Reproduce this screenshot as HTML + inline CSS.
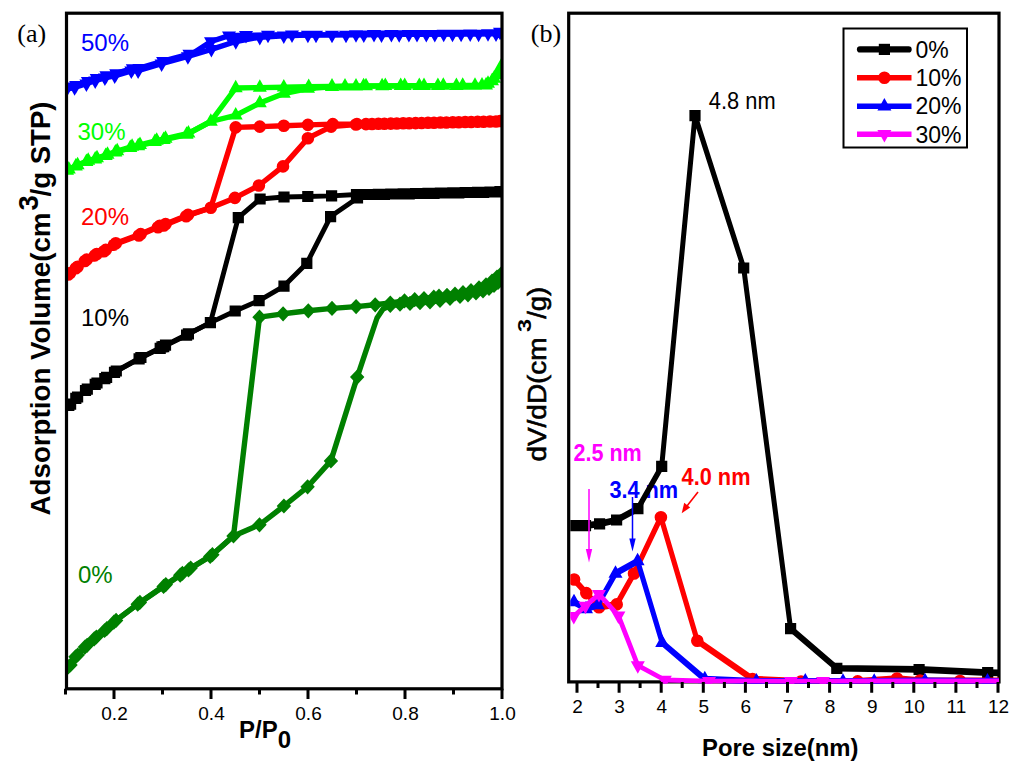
<!DOCTYPE html>
<html><head><meta charset="utf-8"><title>Figure</title>
<style>html,body{margin:0;padding:0;background:#fff;width:1024px;height:772px;overflow:hidden}
svg{display:block;font-family:"Liberation Sans", sans-serif}</style></head>
<body>
<svg width="1024" height="772" viewBox="0 0 1024 772">
<rect width="1024" height="772" fill="#fff"/>
<defs><clipPath id="cl"><rect x="66.5" y="13.2" width="435.5" height="675.6"/></clipPath>
<clipPath id="cr2"><rect x="570.3" y="14.8" width="429.7" height="669"/></clipPath></defs>
<g clip-path="url(#cl)">
<polyline points="66.5,89 74.6,87.5 86.4,83.6 95.2,80.7 104.9,77.8 114.7,75.8 131.3,70.8 138.1,70.6 161.6,63.6 187.9,56.4 211.4,49.3 235.8,41.5 259.8,37.2 283.8,35.7 307.9,35 332,34.9 356,34.4 374,34.3 391.4,34.2 408.9,34.2 426.3,34.1 443.7,34 461.1,33.9 478.6,33.9 496,33.8" fill="none" stroke="#0000ff" stroke-width="5.4" stroke-linejoin="round" stroke-linecap="butt"/>
<polyline points="500,32 488,33.5 470.2,33.7 452.5,33.9 434.8,34 417,34.2 399.2,34.4 381.5,34.5 363.8,34.7 346,34.9 316,34.9 292,34.8 268,35 246,35.3 229,35.6 211,41.5 187.9,56.4 189.4,54 163.1,61.2 139.6,68.2 132.8,68.4 116.2,73.4 106.4,75.4 96.7,78.3 87.9,81.2 76.1,85.1 68,86.6" fill="none" stroke="#0000ff" stroke-width="5.4" stroke-linejoin="round" stroke-linecap="butt"/>
<path d="M66.5 97.3L73.5 84.8L59.5 84.8zM74.6 95.8L81.6 83.3L67.6 83.3zM86.4 91.9L93.4 79.4L79.4 79.4zM95.2 89L102.2 76.5L88.2 76.5zM104.9 86.1L111.9 73.6L97.9 73.6zM114.7 84.1L121.7 71.6L107.7 71.6zM131.3 79.1L138.3 66.6L124.3 66.6zM138.1 78.9L145.1 66.4L131.1 66.4zM161.6 71.9L168.6 59.4L154.6 59.4zM187.9 64.7L194.9 52.2L180.9 52.2zM211.4 57.6L218.4 45.1L204.4 45.1zM235.8 49.8L242.8 37.3L228.8 37.3zM259.8 45.5L266.8 33L252.8 33zM283.8 44L290.8 31.5L276.8 31.5zM307.9 43.3L314.9 30.8L300.9 30.8zM332 43.2L339 30.7L325 30.7zM356 42.7L363 30.2L349 30.2zM374 42.6L381 30.1L367 30.1zM391.4 42.6L398.4 30.1L384.4 30.1zM408.9 42.5L415.9 30L401.9 30zM426.3 42.4L433.3 29.9L419.3 29.9zM443.7 42.3L450.7 29.8L436.7 29.8zM461.1 42.3L468.1 29.8L454.1 29.8zM478.6 42.2L485.6 29.7L471.6 29.7zM496 42.1L503 29.6L489 29.6zM500 40.3L507 27.8L493 27.8zM488 41.8L495 29.3L481 29.3zM470.2 42L477.2 29.5L463.2 29.5zM452.5 42.2L459.5 29.7L445.5 29.7zM434.8 42.4L441.8 29.9L427.8 29.9zM417 42.5L424 30L410 30zM399.2 42.7L406.2 30.2L392.2 30.2zM381.5 42.9L388.5 30.4L374.5 30.4zM363.8 43.1L370.8 30.6L356.8 30.6zM346 43.2L353 30.7L339 30.7zM316 43.2L323 30.7L309 30.7zM292 43.1L299 30.6L285 30.6zM268 43.3L275 30.8L261 30.8zM246 43.6L253 31.1L239 31.1zM229 43.9L236 31.4L222 31.4zM211 49.8L218 37.3L204 37.3zM187.9 64.7L194.9 52.2L180.9 52.2zM189.4 62.3L196.4 49.8L182.4 49.8zM163.1 69.5L170.1 57L156.1 57zM139.6 76.5L146.6 64L132.6 64zM132.8 76.7L139.8 64.2L125.8 64.2zM116.2 81.7L123.2 69.2L109.2 69.2zM106.4 83.7L113.4 71.2L99.4 71.2zM96.7 86.6L103.7 74.1L89.7 74.1zM87.9 89.5L94.9 77L80.9 77zM76.1 93.4L83.1 80.9L69.1 80.9zM68 94.9L75 82.4L61 82.4z" fill="#0000ff"/>
<polyline points="67,170.5 75.8,166.2 86.4,161.8 95.2,159.3 105.7,155.8 115.4,152.2 130.3,147.8 138.2,146 154.9,141.8 163.7,139.8 186.6,134.5 210.8,121.5 235.7,115.4 259.8,103 283.8,93.5 308,88.5 332,86.8 356,86.3 366,86 385.3,85.9 404.7,85.8 424,85.7 443.3,85.6 462.7,85.5 482,85.4 488,83.5 494,78.5 498,72.5 501,66.5" fill="none" stroke="#00ff00" stroke-width="5.4" stroke-linejoin="round" stroke-linecap="butt"/>
<polyline points="501,66.5 497,75 492,81 486,85.2 475,85.6 456.4,85.7 437.9,85.8 419.3,85.9 400.7,85.9 382.1,86 363.6,86.1 345,86.2 332,86.4 308.7,86.8 283.8,87.2 259.8,87.6 235.7,88 210.8,121.5 188.4,133.3 165.5,138.6 156.7,140.6 140,144.8 132.1,146.6 117.2,151 107.5,154.6 97,158.1 88.2,160.6 77.6,165 68.8,169.3" fill="none" stroke="#00ff00" stroke-width="5.4" stroke-linejoin="round" stroke-linecap="butt"/>
<path d="M67 162.2L74 174.7L60 174.7zM75.8 157.9L82.8 170.4L68.8 170.4zM86.4 153.5L93.4 166L79.4 166zM95.2 151L102.2 163.5L88.2 163.5zM105.7 147.5L112.7 160L98.7 160zM115.4 143.9L122.4 156.4L108.4 156.4zM130.3 139.5L137.3 152L123.3 152zM138.2 137.7L145.2 150.2L131.2 150.2zM154.9 133.5L161.9 146L147.9 146zM163.7 131.5L170.7 144L156.7 144zM186.6 126.2L193.6 138.7L179.6 138.7zM210.8 113.2L217.8 125.7L203.8 125.7zM235.7 107.1L242.7 119.6L228.7 119.6zM259.8 94.7L266.8 107.2L252.8 107.2zM283.8 85.2L290.8 97.7L276.8 97.7zM308 80.2L315 92.7L301 92.7zM332 78.5L339 91L325 91zM356 78L363 90.5L349 90.5zM366 77.7L373 90.2L359 90.2zM385.3 77.6L392.3 90.1L378.3 90.1zM404.7 77.5L411.7 90L397.7 90zM424 77.4L431 89.9L417 89.9zM443.3 77.3L450.3 89.8L436.3 89.8zM462.7 77.2L469.7 89.7L455.7 89.7zM482 77.1L489 89.6L475 89.6zM488 75.2L495 87.7L481 87.7zM494 70.2L501 82.7L487 82.7zM498 64.2L505 76.7L491 76.7zM501 58.2L508 70.7L494 70.7zM501 58.2L508 70.7L494 70.7zM497 66.7L504 79.2L490 79.2zM492 72.7L499 85.2L485 85.2zM486 76.9L493 89.4L479 89.4zM475 77.3L482 89.8L468 89.8zM456.4 77.4L463.4 89.9L449.4 89.9zM437.9 77.4L444.9 89.9L430.9 89.9zM419.3 77.5L426.3 90L412.3 90zM400.7 77.6L407.7 90.1L393.7 90.1zM382.1 77.7L389.1 90.2L375.1 90.2zM363.6 77.8L370.6 90.3L356.6 90.3zM345 77.9L352 90.4L338 90.4zM332 78.1L339 90.6L325 90.6zM308.7 78.5L315.7 91L301.7 91zM283.8 78.9L290.8 91.4L276.8 91.4zM259.8 79.3L266.8 91.8L252.8 91.8zM235.7 79.7L242.7 92.2L228.7 92.2zM210.8 113.2L217.8 125.7L203.8 125.7zM188.4 125L195.4 137.5L181.4 137.5zM165.5 130.3L172.5 142.8L158.5 142.8zM156.7 132.3L163.7 144.8L149.7 144.8zM140 136.5L147 149L133 149zM132.1 138.3L139.1 150.8L125.1 150.8zM117.2 142.7L124.2 155.2L110.2 155.2zM107.5 146.3L114.5 158.8L100.5 158.8zM97 149.8L104 162.3L90 162.3zM88.2 152.3L95.2 164.8L81.2 164.8zM77.6 156.7L84.6 169.2L70.6 169.2zM68.8 161L75.8 173.5L61.8 173.5z" fill="#00ff00"/>
<polyline points="68.3,274.5 75.8,268.2 84.9,261 94.9,255.4 104,251.3 114,244.6 138.9,235.5 158,227.2 163.8,225.5 186.2,216.3 210.8,207.8 234.9,197.9 258.9,185.5 283,166.4 307.9,138.2 331.1,126.6 356,124.5 372,124 384.4,123.8 396.8,123.5 409.2,123.2 421.6,123 434,122.8 446.4,122.5 458.8,122.2 471.2,122 483.6,121.8 496,121.5" fill="none" stroke="#ff0000" stroke-width="5.4" stroke-linejoin="round" stroke-linecap="butt"/>
<polyline points="500,121 490,121.5 477.6,121.8 465.2,122 452.8,122.3 440.4,122.5 428,122.8 415.6,123.1 403.2,123.3 390.8,123.6 378.4,123.8 366,124.1 356.9,124.1 332.8,124.1 307.9,124.9 283.8,125.7 259.8,126.6 235.7,127.4 210.8,207.8 188,214.9 165.6,224.1 159.8,225.8 140.7,234.1 115.8,243.2 105.8,249.9 96.7,254 86.7,259.6 77.6,266.8 70.1,273.1" fill="none" stroke="#ff0000" stroke-width="5.4" stroke-linejoin="round" stroke-linecap="butt"/>
<path d="M62 274.5a6.3 6.3 0 1 0 12.6 0a6.3 6.3 0 1 0 -12.6 0zM69.5 268.2a6.3 6.3 0 1 0 12.6 0a6.3 6.3 0 1 0 -12.6 0zM78.6 261a6.3 6.3 0 1 0 12.6 0a6.3 6.3 0 1 0 -12.6 0zM88.6 255.4a6.3 6.3 0 1 0 12.6 0a6.3 6.3 0 1 0 -12.6 0zM97.7 251.3a6.3 6.3 0 1 0 12.6 0a6.3 6.3 0 1 0 -12.6 0zM107.7 244.6a6.3 6.3 0 1 0 12.6 0a6.3 6.3 0 1 0 -12.6 0zM132.6 235.5a6.3 6.3 0 1 0 12.6 0a6.3 6.3 0 1 0 -12.6 0zM151.7 227.2a6.3 6.3 0 1 0 12.6 0a6.3 6.3 0 1 0 -12.6 0zM157.5 225.5a6.3 6.3 0 1 0 12.6 0a6.3 6.3 0 1 0 -12.6 0zM179.9 216.3a6.3 6.3 0 1 0 12.6 0a6.3 6.3 0 1 0 -12.6 0zM204.5 207.8a6.3 6.3 0 1 0 12.6 0a6.3 6.3 0 1 0 -12.6 0zM228.6 197.9a6.3 6.3 0 1 0 12.6 0a6.3 6.3 0 1 0 -12.6 0zM252.6 185.5a6.3 6.3 0 1 0 12.6 0a6.3 6.3 0 1 0 -12.6 0zM276.7 166.4a6.3 6.3 0 1 0 12.6 0a6.3 6.3 0 1 0 -12.6 0zM301.6 138.2a6.3 6.3 0 1 0 12.6 0a6.3 6.3 0 1 0 -12.6 0zM324.8 126.6a6.3 6.3 0 1 0 12.6 0a6.3 6.3 0 1 0 -12.6 0zM349.7 124.5a6.3 6.3 0 1 0 12.6 0a6.3 6.3 0 1 0 -12.6 0zM365.7 124a6.3 6.3 0 1 0 12.6 0a6.3 6.3 0 1 0 -12.6 0zM378.1 123.8a6.3 6.3 0 1 0 12.6 0a6.3 6.3 0 1 0 -12.6 0zM390.5 123.5a6.3 6.3 0 1 0 12.6 0a6.3 6.3 0 1 0 -12.6 0zM402.9 123.2a6.3 6.3 0 1 0 12.6 0a6.3 6.3 0 1 0 -12.6 0zM415.3 123a6.3 6.3 0 1 0 12.6 0a6.3 6.3 0 1 0 -12.6 0zM427.7 122.8a6.3 6.3 0 1 0 12.6 0a6.3 6.3 0 1 0 -12.6 0zM440.1 122.5a6.3 6.3 0 1 0 12.6 0a6.3 6.3 0 1 0 -12.6 0zM452.5 122.2a6.3 6.3 0 1 0 12.6 0a6.3 6.3 0 1 0 -12.6 0zM464.9 122a6.3 6.3 0 1 0 12.6 0a6.3 6.3 0 1 0 -12.6 0zM477.3 121.8a6.3 6.3 0 1 0 12.6 0a6.3 6.3 0 1 0 -12.6 0zM489.7 121.5a6.3 6.3 0 1 0 12.6 0a6.3 6.3 0 1 0 -12.6 0zM493.7 121a6.3 6.3 0 1 0 12.6 0a6.3 6.3 0 1 0 -12.6 0zM483.7 121.5a6.3 6.3 0 1 0 12.6 0a6.3 6.3 0 1 0 -12.6 0zM471.3 121.8a6.3 6.3 0 1 0 12.6 0a6.3 6.3 0 1 0 -12.6 0zM458.9 122a6.3 6.3 0 1 0 12.6 0a6.3 6.3 0 1 0 -12.6 0zM446.5 122.3a6.3 6.3 0 1 0 12.6 0a6.3 6.3 0 1 0 -12.6 0zM434.1 122.5a6.3 6.3 0 1 0 12.6 0a6.3 6.3 0 1 0 -12.6 0zM421.7 122.8a6.3 6.3 0 1 0 12.6 0a6.3 6.3 0 1 0 -12.6 0zM409.3 123.1a6.3 6.3 0 1 0 12.6 0a6.3 6.3 0 1 0 -12.6 0zM396.9 123.3a6.3 6.3 0 1 0 12.6 0a6.3 6.3 0 1 0 -12.6 0zM384.5 123.6a6.3 6.3 0 1 0 12.6 0a6.3 6.3 0 1 0 -12.6 0zM372.1 123.8a6.3 6.3 0 1 0 12.6 0a6.3 6.3 0 1 0 -12.6 0zM359.7 124.1a6.3 6.3 0 1 0 12.6 0a6.3 6.3 0 1 0 -12.6 0zM350.6 124.1a6.3 6.3 0 1 0 12.6 0a6.3 6.3 0 1 0 -12.6 0zM326.5 124.1a6.3 6.3 0 1 0 12.6 0a6.3 6.3 0 1 0 -12.6 0zM301.6 124.9a6.3 6.3 0 1 0 12.6 0a6.3 6.3 0 1 0 -12.6 0zM277.5 125.7a6.3 6.3 0 1 0 12.6 0a6.3 6.3 0 1 0 -12.6 0zM253.5 126.6a6.3 6.3 0 1 0 12.6 0a6.3 6.3 0 1 0 -12.6 0zM229.4 127.4a6.3 6.3 0 1 0 12.6 0a6.3 6.3 0 1 0 -12.6 0zM204.5 207.8a6.3 6.3 0 1 0 12.6 0a6.3 6.3 0 1 0 -12.6 0zM181.7 214.9a6.3 6.3 0 1 0 12.6 0a6.3 6.3 0 1 0 -12.6 0zM159.3 224.1a6.3 6.3 0 1 0 12.6 0a6.3 6.3 0 1 0 -12.6 0zM153.5 225.8a6.3 6.3 0 1 0 12.6 0a6.3 6.3 0 1 0 -12.6 0zM134.4 234.1a6.3 6.3 0 1 0 12.6 0a6.3 6.3 0 1 0 -12.6 0zM109.5 243.2a6.3 6.3 0 1 0 12.6 0a6.3 6.3 0 1 0 -12.6 0zM99.5 249.9a6.3 6.3 0 1 0 12.6 0a6.3 6.3 0 1 0 -12.6 0zM90.4 254a6.3 6.3 0 1 0 12.6 0a6.3 6.3 0 1 0 -12.6 0zM80.4 259.6a6.3 6.3 0 1 0 12.6 0a6.3 6.3 0 1 0 -12.6 0zM71.3 266.8a6.3 6.3 0 1 0 12.6 0a6.3 6.3 0 1 0 -12.6 0zM63.8 273.1a6.3 6.3 0 1 0 12.6 0a6.3 6.3 0 1 0 -12.6 0z" fill="#ff0000"/>
<polyline points="68.8,405.5 75.8,398.4 85.5,390.5 95.2,384.4 104.8,378.7 114.5,372.4 139.1,358.9 160.2,348.3 163.7,346.6 186.6,335.2 210.4,322.6 235.2,311 259.1,300.6 284,286.1 306.8,263.3 330.6,216.6 357.5,198 372,194.5 384.4,194.2 396.8,194 409.2,193.8 421.6,193.5 434,193.2 446.4,193 458.8,192.8 471.2,192.5 483.6,192.2 496,192" fill="none" stroke="#000000" stroke-width="4.9" stroke-linejoin="round" stroke-linecap="butt"/>
<polyline points="500,191.5 490,192 477.6,192.2 465.2,192.5 452.8,192.8 440.4,193 428,193.2 415.6,193.5 403.2,193.8 390.8,194 378.4,194.2 366,194.5 356.5,194.5 331.6,195.9 307.8,196.5 284,197 260.1,199 238.3,217.7 210.4,322.6 188.4,333.8 165.5,345.2 162,346.9 140.9,357.5 116.3,371 106.6,377.3 97,383 87.3,389.1 77.6,397 70.6,404.1" fill="none" stroke="#000000" stroke-width="4.9" stroke-linejoin="round" stroke-linecap="butt"/>
<path d="M63.2 399.9h11.2v11.2h-11.2zM70.2 392.8h11.2v11.2h-11.2zM79.9 384.9h11.2v11.2h-11.2zM89.6 378.8h11.2v11.2h-11.2zM99.2 373.1h11.2v11.2h-11.2zM108.9 366.8h11.2v11.2h-11.2zM133.5 353.3h11.2v11.2h-11.2zM154.6 342.7h11.2v11.2h-11.2zM158.1 341h11.2v11.2h-11.2zM181 329.6h11.2v11.2h-11.2zM204.8 317h11.2v11.2h-11.2zM229.6 305.4h11.2v11.2h-11.2zM253.5 295h11.2v11.2h-11.2zM278.4 280.5h11.2v11.2h-11.2zM301.2 257.7h11.2v11.2h-11.2zM325 211h11.2v11.2h-11.2zM351.9 192.4h11.2v11.2h-11.2zM366.4 188.9h11.2v11.2h-11.2zM378.8 188.7h11.2v11.2h-11.2zM391.2 188.4h11.2v11.2h-11.2zM403.6 188.2h11.2v11.2h-11.2zM416 187.9h11.2v11.2h-11.2zM428.4 187.7h11.2v11.2h-11.2zM440.8 187.4h11.2v11.2h-11.2zM453.2 187.2h11.2v11.2h-11.2zM465.6 186.9h11.2v11.2h-11.2zM478 186.7h11.2v11.2h-11.2zM490.4 186.4h11.2v11.2h-11.2zM494.4 185.9h11.2v11.2h-11.2zM484.4 186.4h11.2v11.2h-11.2zM472 186.7h11.2v11.2h-11.2zM459.6 186.9h11.2v11.2h-11.2zM447.2 187.2h11.2v11.2h-11.2zM434.8 187.4h11.2v11.2h-11.2zM422.4 187.7h11.2v11.2h-11.2zM410 187.9h11.2v11.2h-11.2zM397.6 188.2h11.2v11.2h-11.2zM385.2 188.4h11.2v11.2h-11.2zM372.8 188.7h11.2v11.2h-11.2zM360.4 188.9h11.2v11.2h-11.2zM350.9 188.9h11.2v11.2h-11.2zM326 190.3h11.2v11.2h-11.2zM302.2 190.9h11.2v11.2h-11.2zM278.4 191.4h11.2v11.2h-11.2zM254.5 193.4h11.2v11.2h-11.2zM232.7 212.1h11.2v11.2h-11.2zM204.8 317h11.2v11.2h-11.2zM182.8 328.2h11.2v11.2h-11.2zM159.9 339.6h11.2v11.2h-11.2zM156.4 341.3h11.2v11.2h-11.2zM135.3 351.9h11.2v11.2h-11.2zM110.7 365.4h11.2v11.2h-11.2zM101 371.7h11.2v11.2h-11.2zM91.4 377.4h11.2v11.2h-11.2zM81.7 383.5h11.2v11.2h-11.2zM72 391.4h11.2v11.2h-11.2zM65 398.5h11.2v11.2h-11.2z" fill="#000000"/>
<polyline points="68.3,666.8 75.5,656.8 84.9,647.1 94.2,638.8 104.6,630.5 113.9,622.2 137.7,604.2 163.6,586.4 180.2,575.2 188.5,569.8 210.2,556.5 233.5,536 259.5,524.8 283.9,506 307.6,486.8 330.9,460.9 357.2,377.1 377,318 383,309 390.3,305.5 400,304.2 410,303.4 420,302.7 430,302 440,300.5 450,298.5 460,296.5 468,294.8 476,293 483,291 489,288.5 494,285.5 498,282.5 501,279.5" fill="none" stroke="#008000" stroke-width="5.4" stroke-linejoin="round" stroke-linecap="butt"/>
<polyline points="501,274 497,277 492,281 486,284.8 479,287.8 471,290.6 463,292.5 455,294 447,295.3 439,296.2 433.8,297.2 424,298.5 414.7,299.6 404.5,300.8 390.3,303 375.2,304.8 356.1,306.6 332,308.4 308.3,310.8 283.1,313.8 259.5,317.2 233.5,536 212.4,554.7 190.7,568 182.4,573.4 165.8,584.6 139.9,602.4 116.1,620.4 106.8,628.7 96.4,637 87.1,645.3 77.7,655 70.5,665" fill="none" stroke="#008000" stroke-width="5.4" stroke-linejoin="round" stroke-linecap="butt"/>
<path d="M68.3 659.2L75.5 666.8L68.3 674.4L61.1 666.8zM75.5 649.2L82.7 656.8L75.5 664.4L68.3 656.8zM84.9 639.5L92.1 647.1L84.9 654.7L77.7 647.1zM94.2 631.2L101.4 638.8L94.2 646.4L87 638.8zM104.6 622.9L111.8 630.5L104.6 638.1L97.4 630.5zM113.9 614.6L121.1 622.2L113.9 629.8L106.7 622.2zM137.7 596.6L144.9 604.2L137.7 611.8L130.5 604.2zM163.6 578.8L170.8 586.4L163.6 594L156.4 586.4zM180.2 567.6L187.4 575.2L180.2 582.8L173 575.2zM188.5 562.2L195.7 569.8L188.5 577.4L181.3 569.8zM210.2 548.9L217.4 556.5L210.2 564.1L203 556.5zM233.5 528.4L240.7 536L233.5 543.6L226.3 536zM259.5 517.2L266.7 524.8L259.5 532.4L252.3 524.8zM283.9 498.4L291.1 506L283.9 513.6L276.7 506zM307.6 479.2L314.8 486.8L307.6 494.4L300.4 486.8zM330.9 453.3L338.1 460.9L330.9 468.5L323.7 460.9zM357.2 369.5L364.4 377.1L357.2 384.7L350 377.1zM390.3 297.9L397.5 305.5L390.3 313.1L383.1 305.5zM400 296.6L407.2 304.2L400 311.8L392.8 304.2zM410 295.8L417.2 303.4L410 311L402.8 303.4zM420 295.1L427.2 302.7L420 310.3L412.8 302.7zM430 294.4L437.2 302L430 309.6L422.8 302zM440 292.9L447.2 300.5L440 308.1L432.8 300.5zM450 290.9L457.2 298.5L450 306.1L442.8 298.5zM460 288.9L467.2 296.5L460 304.1L452.8 296.5zM468 287.2L475.2 294.8L468 302.4L460.8 294.8zM476 285.4L483.2 293L476 300.6L468.8 293zM483 283.4L490.2 291L483 298.6L475.8 291zM489 280.9L496.2 288.5L489 296.1L481.8 288.5zM494 277.9L501.2 285.5L494 293.1L486.8 285.5zM498 274.9L505.2 282.5L498 290.1L490.8 282.5zM501 271.9L508.2 279.5L501 287.1L493.8 279.5zM501 266.4L508.2 274L501 281.6L493.8 274zM497 269.4L504.2 277L497 284.6L489.8 277zM492 273.4L499.2 281L492 288.6L484.8 281zM486 277.2L493.2 284.8L486 292.4L478.8 284.8zM479 280.2L486.2 287.8L479 295.4L471.8 287.8zM471 283L478.2 290.6L471 298.2L463.8 290.6zM463 284.9L470.2 292.5L463 300.1L455.8 292.5zM455 286.4L462.2 294L455 301.6L447.8 294zM447 287.7L454.2 295.3L447 302.9L439.8 295.3zM439 288.6L446.2 296.2L439 303.8L431.8 296.2zM433.8 289.6L441 297.2L433.8 304.8L426.6 297.2zM424 290.9L431.2 298.5L424 306.1L416.8 298.5zM414.7 292L421.9 299.6L414.7 307.2L407.5 299.6zM404.5 293.2L411.7 300.8L404.5 308.4L397.3 300.8zM390.3 295.4L397.5 303L390.3 310.6L383.1 303zM375.2 297.2L382.4 304.8L375.2 312.4L368 304.8zM356.1 299L363.3 306.6L356.1 314.2L348.9 306.6zM332 300.8L339.2 308.4L332 316L324.8 308.4zM308.3 303.2L315.5 310.8L308.3 318.4L301.1 310.8zM283.1 306.2L290.3 313.8L283.1 321.4L275.9 313.8zM259.5 309.6L266.7 317.2L259.5 324.8L252.3 317.2zM233.5 528.4L240.7 536L233.5 543.6L226.3 536zM212.4 547.1L219.6 554.7L212.4 562.3L205.2 554.7zM190.7 560.4L197.9 568L190.7 575.6L183.5 568zM182.4 565.8L189.6 573.4L182.4 581L175.2 573.4zM165.8 577L173 584.6L165.8 592.2L158.6 584.6zM139.9 594.8L147.1 602.4L139.9 610L132.7 602.4zM116.1 612.8L123.3 620.4L116.1 628L108.9 620.4zM106.8 621.1L114 628.7L106.8 636.3L99.6 628.7zM96.4 629.4L103.6 637L96.4 644.6L89.2 637zM87.1 637.7L94.3 645.3L87.1 652.9L79.9 645.3zM77.7 647.4L84.9 655L77.7 662.6L70.5 655zM70.5 657.4L77.7 665L70.5 672.6L63.3 665z" fill="#008000"/>
</g>
<rect x="66.5" y="13.2" width="435.5" height="675.6" fill="none" stroke="#000" stroke-width="3.2"/>
<path d="M65.5 688.8V694.6M114 688.8V699M162.5 688.8V694.6M211 688.8V699M259.5 688.8V694.6M308 688.8V699M356.5 688.8V694.6M405 688.8V699M453.5 688.8V694.6M502 688.8V699" stroke="#000" stroke-width="3" fill="none"/>
<text x="114.5" y="719.5" font-size="19" text-anchor="middle">0.2</text>
<text x="211.5" y="719.5" font-size="19" text-anchor="middle">0.4</text>
<text x="308.5" y="719.5" font-size="19" text-anchor="middle">0.6</text>
<text x="405.5" y="719.5" font-size="19" text-anchor="middle">0.8</text>
<text x="502.5" y="719.5" font-size="19" text-anchor="middle">1.0</text>
<rect x="568.7" y="13.2" width="430.3" height="668.7" fill="none" stroke="#000" stroke-width="3.2"/>
<text x="573.5" y="460.9" font-size="23" font-weight="bold" fill="#ff00ff" textLength="68.3" lengthAdjust="spacingAndGlyphs">2.5 nm</text>
<text x="609.4" y="498.3" font-size="23" font-weight="bold" fill="#0000ff" textLength="68.8" lengthAdjust="spacingAndGlyphs">3.4 nm</text>
<text x="681.6" y="484.5" font-size="23" font-weight="bold" fill="#ff0000" textLength="68.9" lengthAdjust="spacingAndGlyphs">4.0 nm</text>
<g clip-path="url(#cr2)">
<g transform="scale(1 1.35)"><polyline points="574.5,389.3 585.5,389.3 599.6,388 616.6,385.2 637.9,376.7 661.7,345.5 695,85.7 743.7,198.5 790.6,465.7 836.8,495 919.1,495.9 987.7,498.2 999,498.5" fill="none" stroke="#000000" stroke-width="5" stroke-linejoin="round" stroke-linecap="butt"/></g>
<path d="M568.9 520h11.2v11.2h-11.2zM579.9 520h11.2v11.2h-11.2zM594 518.2h11.2v11.2h-11.2zM611 514.4h11.2v11.2h-11.2zM632.3 503h11.2v11.2h-11.2zM656.1 460.8h11.2v11.2h-11.2zM689.4 110.1h11.2v11.2h-11.2zM738.1 262.4h11.2v11.2h-11.2zM785 623.1h11.2v11.2h-11.2zM831.2 662.7h11.2v11.2h-11.2zM913.5 663.9h11.2v11.2h-11.2zM982.1 667h11.2v11.2h-11.2z" fill="#000000"/>
<g transform="scale(1 1.35)"><polyline points="574.1,429.3 586.3,439.3 599,449.8 616.7,447.7 634,424.8 660.9,383.1 697.3,474.6 752.5,503 801,504.8 857.7,504.7 897,502.6 920,504.1 960,504.4 999,504.4" fill="none" stroke="#ff0000" stroke-width="5" stroke-linejoin="round" stroke-linecap="butt"/></g>
<path d="M567.8 579.5a6.3 6.3 0 1 0 12.6 0a6.3 6.3 0 1 0 -12.6 0zM580 593.1a6.3 6.3 0 1 0 12.6 0a6.3 6.3 0 1 0 -12.6 0zM592.7 607.2a6.3 6.3 0 1 0 12.6 0a6.3 6.3 0 1 0 -12.6 0zM610.4 604.4a6.3 6.3 0 1 0 12.6 0a6.3 6.3 0 1 0 -12.6 0zM627.7 573.5a6.3 6.3 0 1 0 12.6 0a6.3 6.3 0 1 0 -12.6 0zM654.6 517.2a6.3 6.3 0 1 0 12.6 0a6.3 6.3 0 1 0 -12.6 0zM691 640.7a6.3 6.3 0 1 0 12.6 0a6.3 6.3 0 1 0 -12.6 0zM746.2 679a6.3 6.3 0 1 0 12.6 0a6.3 6.3 0 1 0 -12.6 0zM794.7 681.5a6.3 6.3 0 1 0 12.6 0a6.3 6.3 0 1 0 -12.6 0zM851.4 681.4a6.3 6.3 0 1 0 12.6 0a6.3 6.3 0 1 0 -12.6 0zM890.7 678.5a6.3 6.3 0 1 0 12.6 0a6.3 6.3 0 1 0 -12.6 0zM913.7 680.5a6.3 6.3 0 1 0 12.6 0a6.3 6.3 0 1 0 -12.6 0zM953.7 681a6.3 6.3 0 1 0 12.6 0a6.3 6.3 0 1 0 -12.6 0z" fill="#ff0000"/>
<g transform="scale(1 1.35)"><polyline points="574,445.9 586,451.1 597.7,448.1 615.5,424.8 637.6,415.6 662.2,476.1 704.8,503 756.4,504.7 805.3,504.7 843,504.8 874.2,504.8 925,504.4 987.5,504.7 999,504.7" fill="none" stroke="#0000ff" stroke-width="5" stroke-linejoin="round" stroke-linecap="butt"/></g>
<path d="M574 593.7L581 606.2L567 606.2zM586 600.7L593 613.2L579 613.2zM597.7 596.7L604.7 609.2L590.7 609.2zM615.5 565.2L622.5 577.7L608.5 577.7zM637.6 552.7L644.6 565.2L630.6 565.2zM662.2 634.5L669.2 647L655.2 647zM704.8 670.7L711.8 683.2L697.8 683.2zM756.4 673L763.4 685.5L749.4 685.5zM805.3 673L812.3 685.5L798.3 685.5zM843 673.2L850 685.7L836 685.7zM874.2 673.2L881.2 685.7L867.2 685.7zM925 672.7L932 685.2L918 685.2zM987.5 673L994.5 685.5L980.5 685.5z" fill="#0000ff"/>
<polyline points="573.8,616.2 585.4,605.9 599,594.2 618.4,615.6 637.8,665.4 664.8,680 709,681.2 750,681 791,681.2 823,681.2 870,681 920,681 960,681 999,681" fill="none" stroke="#ff00ff" stroke-width="4.8" stroke-linejoin="round" stroke-linecap="butt"/>
<path d="M573.8 624.5L580.8 612L566.8 612zM585.4 614.2L592.4 601.7L578.4 601.7zM599 602.5L606 590L592 590zM618.4 623.9L625.4 611.4L611.4 611.4zM637.8 673.7L644.8 661.2L630.8 661.2zM664.8 688.3L671.8 675.8L657.8 675.8zM709 689.5L716 677L702 677zM791 689.5L798 677L784 677zM823 689.5L830 677L816 677z" fill="#ff00ff"/>
</g>
<path d="M577 681.9V692.8M598 681.9V688M619.1 681.9V692.8M640.1 681.9V688M661.2 681.9V692.8M682.2 681.9V688M703.3 681.9V692.8M724.4 681.9V688M745.4 681.9V692.8M766.5 681.9V688M787.5 681.9V692.8M808.5 681.9V688M829.6 681.9V692.8M850.7 681.9V688M871.7 681.9V692.8M892.8 681.9V688M913.8 681.9V692.8M934.9 681.9V688M955.9 681.9V692.8M977 681.9V688M998 681.9V692.8" stroke="#000" stroke-width="3" fill="none"/>
<text x="577.5" y="713" font-size="19" text-anchor="middle">2</text>
<text x="619.6" y="713" font-size="19" text-anchor="middle">3</text>
<text x="661.7" y="713" font-size="19" text-anchor="middle">4</text>
<text x="703.8" y="713" font-size="19" text-anchor="middle">5</text>
<text x="745.9" y="713" font-size="19" text-anchor="middle">6</text>
<text x="788" y="713" font-size="19" text-anchor="middle">7</text>
<text x="830.1" y="713" font-size="19" text-anchor="middle">8</text>
<text x="872.2" y="713" font-size="19" text-anchor="middle">9</text>
<text x="914.3" y="713" font-size="19" text-anchor="middle">10</text>
<text x="956.4" y="713" font-size="19" text-anchor="middle">11</text>
<text x="998.5" y="713" font-size="19" text-anchor="middle">12</text>
<rect x="843.5" y="28.5" width="123.5" height="119" fill="#fff" stroke="#000" stroke-width="2"/>
<line x1="860" y1="49.4" x2="908.6" y2="49.4" stroke="#000000" stroke-width="6.2" stroke-linecap="round"/>
<path d="M878.8 43.8h11.2v11.2h-11.2z" fill="#000000"/>
<text x="915.5" y="57.6" font-size="23">0%</text>
<line x1="857" y1="77.7" x2="911.5" y2="77.7" stroke="#ff0000" stroke-width="5.6"/>
<path d="M878.1 77.7a6.3 6.3 0 1 0 12.6 0a6.3 6.3 0 1 0 -12.6 0z" fill="#ff0000"/>
<text x="915.5" y="85.9" font-size="23">10%</text>
<line x1="857" y1="106.2" x2="911.5" y2="106.2" stroke="#0000ff" stroke-width="5.6"/>
<path d="M884.4 97.9L891.4 110.4L877.4 110.4z" fill="#0000ff"/>
<text x="915.5" y="114.4" font-size="23">20%</text>
<line x1="857" y1="134.3" x2="911.5" y2="134.3" stroke="#ff00ff" stroke-width="5.6"/>
<path d="M884.4 142.6L891.4 130.1L877.4 130.1z" fill="#ff00ff"/>
<text x="915.5" y="142.5" font-size="23">30%</text>
<text x="17.3" y="41.9" font-family='&quot;Liberation Serif&quot;, serif' font-size="26">(a)</text>
<text x="530.8" y="41.9" font-family='&quot;Liberation Serif&quot;, serif' font-size="26">(b)</text>
<text x="81" y="51" font-size="24" fill="#0000ff">50%</text>
<text x="77.5" y="140" font-size="24" fill="#00ff00">30%</text>
<text x="81" y="225.4" font-size="24" fill="#ff0000">20%</text>
<text x="81" y="325.5" font-size="24" fill="#000000">10%</text>
<text x="78" y="582.8" font-size="24" fill="#008000">0%</text>
<text x="239" y="738" font-size="24" font-weight="bold">P/P<tspan dy="9.7">0</tspan></text>
<text x="702" y="756" font-size="24" font-weight="bold" textLength="156.4" lengthAdjust="spacingAndGlyphs">Pore size(nm)</text>
<text transform="translate(49.7 515.5) rotate(-90)" font-size="27.5" font-weight="bold" textLength="303" lengthAdjust="spacingAndGlyphs">Adsorption Volume(cm</text>
<text transform="translate(38.3 210.5) rotate(-90)" font-size="27.5" font-weight="bold">3</text>
<text transform="translate(49.7 196.5) rotate(-90)" font-size="27.5" font-weight="bold" textLength="95" lengthAdjust="spacingAndGlyphs">/g STP)</text>
<text transform="translate(546 461.5) rotate(-90)" font-size="26" stroke="#000" stroke-width="0.6" textLength="124" lengthAdjust="spacingAndGlyphs">dV/dD(cm</text>
<text transform="translate(530.7 332) rotate(-90) scale(1.3 1)" font-size="18" font-weight="bold">3</text>
<text transform="translate(546 318.8) rotate(-90)" font-size="26" stroke="#000" stroke-width="0.6" textLength="32" lengthAdjust="spacingAndGlyphs">/g)</text>
<text x="708.8" y="108.5" font-size="23.5" textLength="66.8" lengthAdjust="spacingAndGlyphs">4.8 nm</text>
<line x1="589" y1="489" x2="589" y2="552" stroke="#ff00ff" stroke-width="1.5"/>
<path d="M585.8 549L592.2 549L589 562.5z" fill="#ff00ff"/>
<line x1="632.5" y1="497" x2="632.5" y2="542" stroke="#0000ff" stroke-width="1.5"/>
<path d="M629.3 538.5L635.7 538.5L632.5 551.5z" fill="#0000ff"/>
<line x1="698" y1="492" x2="687" y2="506" stroke="#ff0000" stroke-width="1.6"/>
<path d="M681.7 513.2L684.2 502.8L690.2 507.5z" fill="#ff0000"/>
</svg>
</body></html>
